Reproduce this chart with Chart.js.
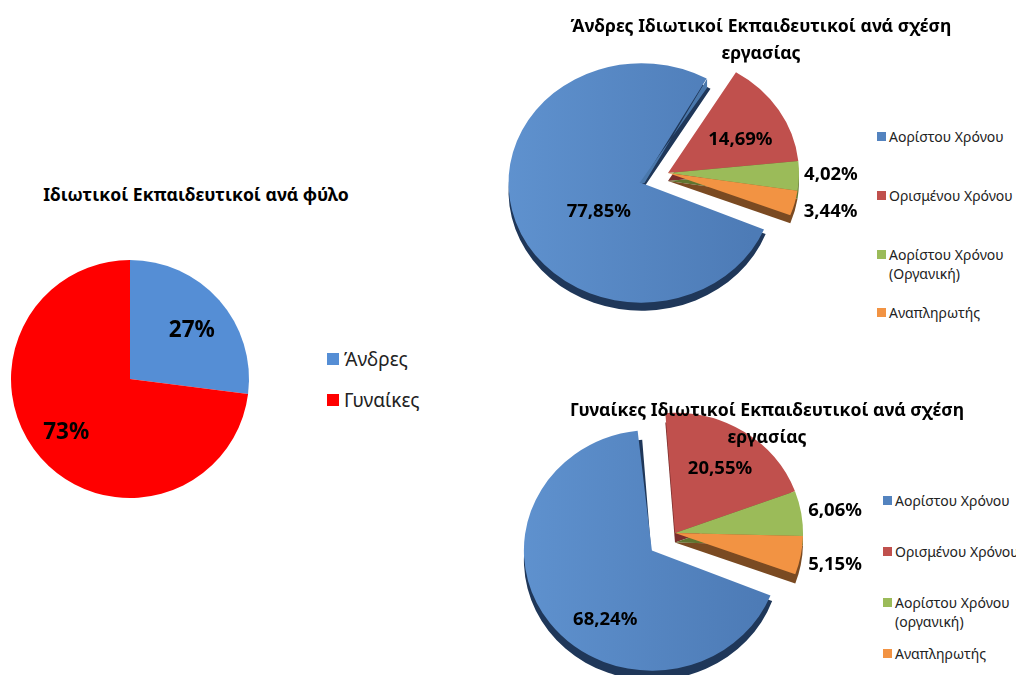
<!DOCTYPE html>
<html>
<head>
<meta charset="utf-8">
<title>Ιδιωτικοί Εκπαιδευτικοί</title>
<script src="https://cdn.jsdelivr.net/npm/chart.js@4/dist/chart.umd.min.js"></script>
<style>
	html, body { margin: 0; padding: 0; background: #fff; }
	#page { position: relative; width: 1016px; height: 675px; overflow: hidden; font-family: "Noto Sans", sans-serif; color: #000; }
	canvas { position: absolute; }
	.title { position: absolute; z-index: 2; font-weight: 700; font-size: 17.6px; line-height: 27px; text-align: center; white-space: nowrap; transform: translateX(-50%); }
	.key { position: absolute; z-index: 2; color: #222; white-space: nowrap; }
	.box { position: absolute; }
</style>
</head>
<body>
<div id="page"></div>
<script>
const genderLabels = ['Άνδρες', 'Γυναίκες'];
const genderValues = [27, 73];
const menLabels = ['Αορίστου Χρόνου', 'Ορισμένου Χρόνου', 'Αορίστου Χρόνου\n(Οργανική)', 'Αναπληρωτής'];
const menValues = [77.85, 14.69, 4.02, 3.44];
const womenLabels = ['Αορίστου Χρόνου', 'Ορισμένου Χρόνου', 'Αορίστου Χρόνου\n(οργανική)', 'Αναπληρωτής'];
const womenValues = [68.24, 20.55, 6.06, 5.15];

const sliceColors = ['#5383BF', '#C0504D', '#9BBB59', '#F29343'];
const depthColors = ['#1F3759', '#7A2E2C', '#5F7530', '#7A4A22'];

const page = document.getElementById('page');

function addTitle(lines, x, y) {
	const el = document.createElement('div');
	el.className = 'title';
	el.style.left = x + 'px';
	el.style.top = y + 'px';
	el.innerHTML = lines.join('<br>');
	page.appendChild(el);
}

function addLegend(labels, colors, left, rows, fontSize, lineHeight, boxSize, gap) {
	labels.forEach(function(label, i) {
		const box = document.createElement('div');
		box.className = 'box';
		box.style.cssText = 'left:' + left + 'px;top:' + (rows[i] - boxSize / 2) + 'px;width:' + boxSize + 'px;height:' + boxSize + 'px;background:' + colors[i];
		page.appendChild(box);
		const key = document.createElement('div');
		key.className = 'key';
		key.style.left = (left + boxSize + gap) + 'px';
		key.style.top = (rows[i] - lineHeight / 2) + 'px';
		key.style.fontSize = fontSize + 'px';
		key.style.lineHeight = lineHeight + 'px';
		key.innerHTML = label.replace('\n', '<br>');
		page.appendChild(key);
	});
}

// Flattened pie with a thick rim, labels placed around the centre in polar terms
function drawPie(cfg) {
	const canvas = document.createElement('canvas');
	canvas.width = cfg.halfW * 2;
	canvas.height = cfg.halfH * 2;
	canvas.style.left = (cfg.cx - cfg.halfW) + 'px';
	canvas.style.top = (cfg.cy - cfg.halfH) + 'px';
	page.appendChild(canvas);
	const ctx = canvas.getContext('2d');

	const fills = cfg.colors.slice();
	if (cfg.gradient) {
		const grad = ctx.createLinearGradient(cfg.halfW - cfg.radius - 20, 0, cfg.halfW + cfg.radius - 20, 0);
		grad.addColorStop(0, '#6093D0');
		grad.addColorStop(1, '#4D7BB6');
		fills[0] = grad;
	}

	const offsets = cfg.values.map(function(v, i) { return i === 0 ? (cfg.explode || 0) * 4 : 0; });

	const piePlugin = {
		id: 'piePlugin',
		afterUpdate(chart) {
			if (cfg.explode) {
				const blue = chart.getDatasetMeta(0).data[0];
				blue.outerRadius = cfg.bigRadius - cfg.explode;
				blue.y += cfg.drop || 0;
			}
		},
		beforeDatasetDraw(chart) {
			const arcs = chart.getDatasetMeta(0).data;
			const c = chart.ctx;
			c.save();
			c.translate(arcs[1].x, arcs[1].y);
			c.scale(1, cfg.squash);
			c.translate(-arcs[1].x, -arcs[1].y);
			if (!cfg.depth) return;
			arcs.forEach(function(arc, i) {
				const mid = (arc.startAngle + arc.endAngle) / 2;
				const off = i === 0 ? (cfg.explode || 0) : 0;
				const x = arc.x + Math.cos(mid) * off;
				const y = arc.y + Math.sin(mid) * off + cfg.depth;
				c.beginPath();
				c.moveTo(x, y);
				c.arc(x, y, arc.outerRadius + off, arc.startAngle, arc.endAngle);
				c.closePath();
				c.fillStyle = depthColors[i];
				c.fill();
			});
		},
		afterDatasetDraw(chart) {
			const arcs = chart.getDatasetMeta(0).data;
			const c = chart.ctx;
			if (cfg.wall) {
				const arc = arcs[0];
				const mid = (arc.startAngle + arc.endAngle) / 2;
				const x = arc.x + Math.cos(mid) * cfg.explode;
				const y = arc.y + Math.sin(mid) * cfg.explode;
				const end = arc.endAngle - 0.03;
				const ex = x + Math.cos(end) * cfg.bigRadius;
				const ey = y + Math.sin(end) * cfg.bigRadius;
				c.beginPath();
				c.moveTo(x + 3, y);
				c.lineTo(ex, ey);
				c.lineTo(ex, ey + cfg.wall);
				c.lineTo(x - 2, y);
				c.closePath();
				c.fillStyle = '#4A78AC';
				c.fill();
			}
			c.restore();
		},
		afterDraw(chart) {
			const arcs = chart.getDatasetMeta(0).data;
			const c = chart.ctx;
			c.save();
			c.font = '700 ' + cfg.labelSize + 'px "Noto Sans", sans-serif';
			c.fillStyle = '#000';
			c.textAlign = 'center';
			c.textBaseline = 'middle';
			cfg.values.forEach(function(v, i) {
				const a = (cfg.labelAngles[i] - 90) * Math.PI / 180;
				const d = cfg.labelDists[i] * cfg.radius;
				const x = arcs[1].x + Math.cos(a) * d;
				const y = arcs[1].y + Math.sin(a) * d * cfg.squash;
				c.fillText(cfg.format(v), x, y);
			});
			c.restore();
		},
	};

	new Chart(canvas, {
		type: 'pie',
		plugins: [piePlugin],
		data: {
			labels: cfg.labels,
			datasets: [{
				data: cfg.values,
				backgroundColor: fills,
				borderWidth: 0,
				offset: offsets,
				hoverOffset: 0,
				clip: false,
			}],
		},
		options: {
			responsive: false,
			animation: false,
			devicePixelRatio: 1,
			radius: cfg.radius,
			rotation: cfg.rotation,
			layout: { padding: 0 },
			events: [],
			plugins: {
				legend: { display: false },
				title: { display: false },
				tooltip: { enabled: false },
			},
		},
	});
}

function twoDecimals(v) {
	return v.toFixed(2).replace('.', ',') + '%';
}

drawPie({
	labels: genderLabels, values: genderValues, colors: ['#558ED5', '#FF0000'],
	cx: 130, cy: 379, halfW: 128, halfH: 128, radius: 119, squash: 1, rotation: 0,
	labelSize: 22.5, labelAngles: [52, 230], labelDists: [0.66, 0.7],
	format: function(v) { return v + '%'; },
});
drawPie({
	labels: menLabels, values: menValues, colors: sliceColors, gradient: true,
	cx: 668, cy: 173, halfW: 200, halfH: 173, radius: 131, bigRadius: 133, explode: 28, drop: 2, squash: 0.9,
	rotation: 111, depth: 9, wall: 10,
	labelSize: 18.5, labelAngles: [238.4, 63, 90.8, 105], labelDists: [0.62, 0.62, 1.244, 1.285],
	format: twoDecimals,
});
drawPie({
	labels: womenLabels, values: womenValues, colors: sliceColors, gradient: true,
	cx: 675, cy: 533, halfW: 190, halfH: 142, radius: 128, bigRadius: 128, explode: 29, drop: 1, squash: 0.94,
	rotation: 110, depth: 10,
	labelSize: 18.5, labelAngles: [217, 33.5, 81.7, 102], labelDists: [0.906, 0.637, 1.264, 1.278],
	format: twoDecimals,
});

addTitle(['Ιδιωτικοί Εκπαιδευτικοί ανά φύλο'], 196, 181);
addTitle(['Άνδρες Ιδιωτικοί Εκπαιδευτικοί ανά σχέση', 'εργασίας'], 761, 12);
addTitle(['Γυναίκες Ιδιωτικοί Εκπαιδευτικοί ανά σχέση', 'εργασίας'], 767, 396);

addLegend(genderLabels, ['#558ED5', '#FF0000'], 327, [359, 400], 19, 24, 12, 5);
addLegend(menLabels, sliceColors, 877, [136, 195, 254, 312], 14, 19, 9, 3);
addLegend(womenLabels, sliceColors, 883, [500, 551, 602, 653], 14, 19, 9, 3);
</script>
</body>
</html>
